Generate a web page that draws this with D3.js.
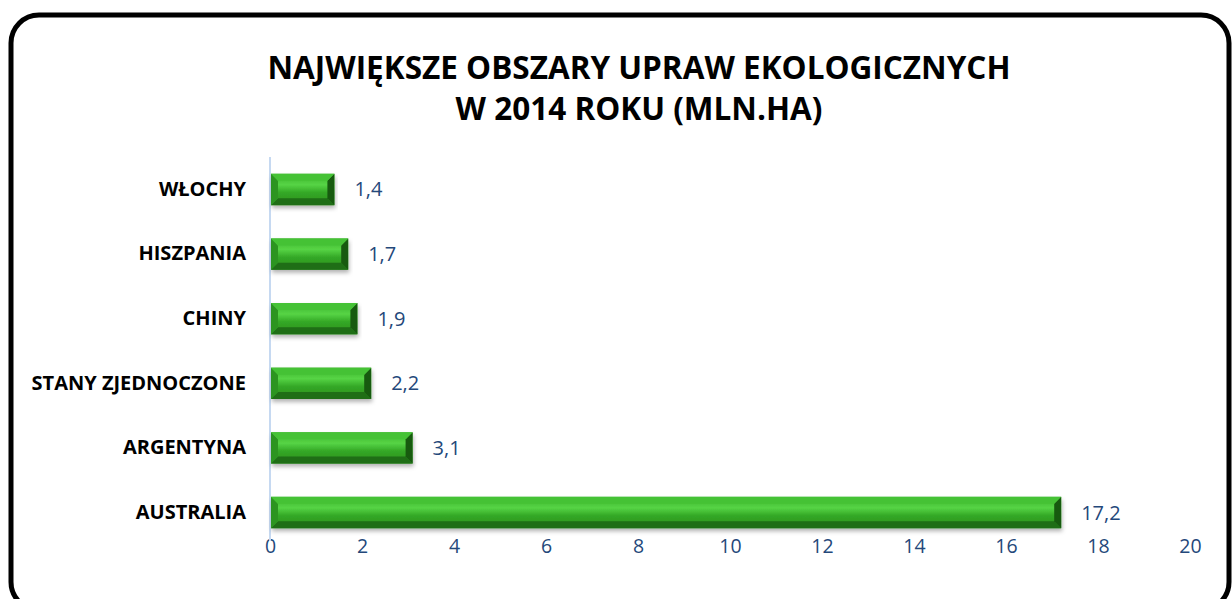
<!DOCTYPE html>
<html>
<head>
<meta charset="utf-8">
<script src="https://cdn.jsdelivr.net/npm/d3@7"></script>
<style>
  body { margin: 0; background: #fff; }
  svg { display: block; }
</style>
</head>
<body>
<div id="chart"></div>
<script>
var countries = ["WŁOCHY", "HISZPANIA", "CHINY", "STANY ZJEDNOCZONE", "ARGENTYNA", "AUSTRALIA"];
var areas = [1.4, 1.7, 1.9, 2.2, 3.1, 17.2];
var xTicks = [0, 2, 4, 6, 8, 10, 12, 14, 16, 18, 20];
var titleLines = ["NAJWIĘKSZE OBSZARY UPRAW EKOLOGICZNYCH", "W 2014 ROKU (MLN.HA)"];

var w = 1232, h = 599;
var font = "'Open Sans', sans-serif";
var blue = "#24487a";

var svg = d3.select("#chart").append("svg")
  .attr("width", w)
  .attr("height", h);

var defs = svg.append("defs");
var grad = defs.append("linearGradient")
  .attr("id", "barGrad")
  .attr("x1", 0).attr("y1", 0).attr("x2", 0).attr("y2", 1);
grad.append("stop").attr("offset", "0%").attr("stop-color", "#3cb12c");
grad.append("stop").attr("offset", "35%").attr("stop-color", "#56d445");
grad.append("stop").attr("offset", "60%").attr("stop-color", "#34a826");
grad.append("stop").attr("offset", "100%").attr("stop-color", "#2a8f1e");

var shadow = defs.append("filter").attr("id", "shadow")
  .attr("x", "-5%").attr("y", "-30%").attr("width", "110%").attr("height", "170%");
shadow.append("feDropShadow")
  .attr("dx", 1).attr("dy", 3).attr("stdDeviation", 2)
  .attr("flood-color", "#000").attr("flood-opacity", 0.3);

// rounded frame
svg.append("rect")
  .attr("x", 11).attr("y", 15)
  .attr("width", 1218).attr("height", 595)
  .attr("rx", 28).attr("ry", 28)
  .attr("fill", "#fff")
  .attr("stroke", "#000")
  .attr("stroke-width", 5);

svg.append("g").selectAll("text")
  .data(titleLines)
  .enter()
  .append("text")
  .attr("x", 639)
  .attr("y", function(d, i) { return 79 + i * 41; })
  .attr("text-anchor", "middle")
  .attr("font-family", font)
  .attr("font-weight", "bold")
  .attr("font-size", 31.5)
  .attr("fill", "#000")
  .text(function(d) { return d; });

var x = d3.scaleLinear().domain([0, 20]).range([270, 1190]);
var y = d3.scaleBand().domain(countries).range([157, 545]).paddingInner(0.515).paddingOuter(0.26);

// x axis labels
var xAxis = d3.axisBottom(x).tickValues(xTicks).tickSize(0).tickPadding(0);
var gx = svg.append("g").attr("transform", "translate(0,539)").call(xAxis);
gx.select(".domain").remove();
gx.selectAll("text")
  .attr("font-family", font)
  .attr("font-size", 19.5)
  .attr("fill", blue)
  .attr("dy", "0.71em");

// y axis
var yAxis = d3.axisLeft(y).tickSize(0).tickPadding(0);
var gy = svg.append("g").attr("transform", "translate(246,0)").call(yAxis);
gy.select(".domain").remove();
gy.selectAll("text")
  .attr("font-family", font)
  .attr("font-weight", "bold")
  .attr("font-size", 20)
  .attr("fill", "#000");

svg.append("line")
  .attr("x1", x(0)).attr("x2", x(0))
  .attr("y1", 157).attr("y2", 541)
  .attr("stroke", "#c6d9f1")
  .attr("stroke-width", 2);

var data = countries.map(function(c, i) { return {name: c, value: areas[i]}; });

var bars = svg.append("g").selectAll("g.bar")
  .data(data)
  .enter()
  .append("g")
  .attr("class", "bar");

bars.append("rect")
  .attr("x", x(0) + 1)
  .attr("y", function(d) { return y(d.name); })
  .attr("width", function(d) { return x(d.value) - x(0) - 1; })
  .attr("height", y.bandwidth())
  .attr("fill", "url(#barGrad)")
  .attr("filter", "url(#shadow)");

// bevel edges
var bev = 7;
bars.append("path")
  .attr("d", function(d) {
    var x0 = x(0) + 1, x1 = x(d.value), y0 = y(d.name), y1 = y0 + y.bandwidth();
    return "M" + x0 + "," + y1 + "L" + (x0 + bev) + "," + (y1 - bev) +
      "L" + (x1 - bev) + "," + (y1 - bev) + "L" + x1 + "," + y1 + "Z";
  })
  .attr("fill", "#1f6e16");
bars.append("path")
  .attr("d", function(d) {
    var x1 = x(d.value), y0 = y(d.name), y1 = y0 + y.bandwidth();
    return "M" + x1 + "," + y0 + "L" + (x1 - bev) + "," + (y0 + bev) +
      "L" + (x1 - bev) + "," + (y1 - bev) + "L" + x1 + "," + y1 + "Z";
  })
  .attr("fill", "#175a0f");
bars.append("path")
  .attr("d", function(d) {
    var x0 = x(0) + 1, y0 = y(d.name), y1 = y0 + y.bandwidth();
    return "M" + x0 + "," + y0 + "L" + (x0 + bev) + "," + (y0 + bev) +
      "L" + (x0 + bev) + "," + (y1 - bev) + "L" + x0 + "," + y1 + "Z";
  })
  .attr("fill", "#2c9420");
bars.append("path")
  .attr("d", function(d) {
    var x0 = x(0) + 1, x1 = x(d.value), y0 = y(d.name);
    return "M" + x0 + "," + y0 + "L" + (x0 + bev) + "," + (y0 + bev) +
      "L" + (x1 - bev) + "," + (y0 + bev) + "L" + x1 + "," + y0 + "Z";
  })
  .attr("fill", "#45c235");

bars.append("text")
  .attr("x", function(d) { return x(d.value) + 20; })
  .attr("y", function(d) { return y(d.name) + y.bandwidth() / 2; })
  .attr("dy", "0.35em")
  .attr("font-family", font)
  .attr("font-size", 20)
  .attr("fill", blue)
  .text(function(d) { return String(d.value).replace(".", ","); });
</script>
</body>
</html>
